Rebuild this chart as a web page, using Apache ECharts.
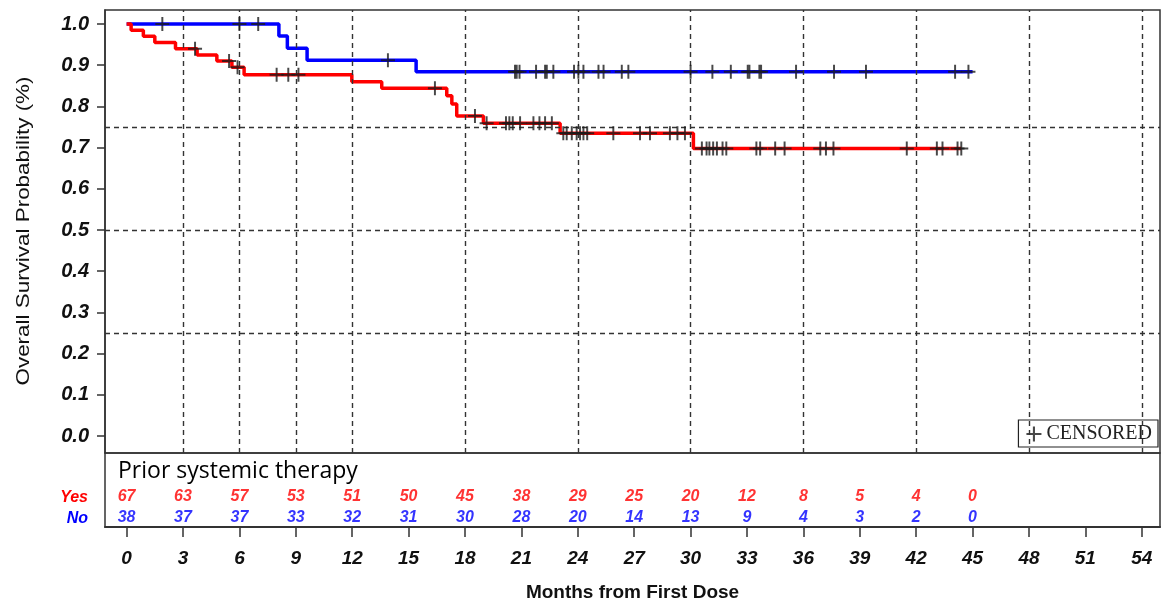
<!DOCTYPE html>
<html>
<head>
<meta charset="utf-8">
<script src="https://cdn.jsdelivr.net/npm/echarts@6/dist/echarts.min.js"></script>
<style>
  html, body { margin: 0; padding: 0; background: #fff; }
  #chart { width: 1162px; height: 601px; }
</style>
</head>
<body>
<div id="chart"></div>
<script>
// ---------- DATA ----------
// Kaplan-Meier step points [month, survival probability]
const yesSteps = [[0,1.0],[0.24,0.985],[0.89,0.970],[1.5,0.955],[2.6,0.940],[3.75,0.925],[4.8,0.910],[5.6,0.895],[6.25,0.877],[11.98,0.860],[13.57,0.844],[17.03,0.826],[17.3,0.806],[17.56,0.777],[18.98,0.759],[23.06,0.735],[30.15,0.698],[44.4,0.698]];
const noSteps = [[0,1.0],[8.1,0.971],[8.55,0.941],[9.6,0.912],[15.4,0.884],[45.0,0.884]];

// censored observations [month, survival probability]
const yesCensored = [[3.64,0.940],[5.45,0.910],[5.9,0.895],[7.98,0.877],[8.6,0.877],[9.14,0.877],[16.4,0.844],[18.53,0.777],[19.15,0.759],[20.18,0.759],[20.36,0.759],[20.54,0.759],[20.93,0.759],[21.64,0.759],[21.96,0.759],[22.26,0.759],[22.62,0.759],[23.23,0.735],[23.41,0.735],[23.68,0.735],[23.94,0.735],[24.12,0.735],[24.3,0.735],[24.5,0.735],[25.89,0.735],[27.31,0.735],[27.84,0.735],[28.9,0.735],[29.3,0.735],[29.7,0.735],[30.6,0.698],[30.85,0.698],[31.0,0.698],[31.2,0.698],[31.4,0.698],[31.7,0.698],[31.9,0.698],[33.5,0.698],[33.7,0.698],[34.5,0.698],[35.0,0.698],[36.9,0.698],[37.2,0.698],[37.6,0.698],[41.5,0.698],[43.1,0.698],[43.4,0.698],[44.2,0.698],[44.4,0.698]];
const noCensored = [[1.9,1.0],[6.0,1.0],[7.0,1.0],[13.9,0.912],[20.66,0.884],[20.75,0.884],[20.9,0.884],[21.78,0.884],[22.26,0.884],[22.35,0.884],[22.7,0.884],[23.8,0.884],[24.03,0.884],[24.3,0.884],[25.1,0.884],[25.37,0.884],[26.34,0.884],[26.69,0.884],[30.0,0.884],[31.16,0.884],[32.14,0.884],[33.04,0.884],[33.13,0.884],[33.66,0.884],[33.75,0.884],[35.61,0.884],[37.63,0.884],[39.33,0.884],[44.07,0.884],[44.78,0.884]];

// number at risk
const riskMonths = [0,3,6,9,12,15,18,21,24,27,30,33,36,39,42,45];
const yesAtRisk = [67,63,57,53,51,50,45,38,29,25,20,12,8,5,4,0];
const noAtRisk  = [38,37,37,33,32,31,30,28,20,14,13,9,4,3,2,0];

// axis ticks and reference lines
const xTicks = [0,3,6,9,12,15,18,21,24,27,30,33,36,39,42,45,48,51,54];
const yTicks = [0.0,0.1,0.2,0.3,0.4,0.5,0.6,0.7,0.8,0.9,1.0];
const gridMonths = [3,6,9,12,18,24,30,36,42,48,54];
const gridProbs = [0.25,0.5,0.75];

// ---------- CHART ----------
const FONT = 'Liberation Sans, Arial, sans-serif';
const X_MIN = -1.15, X_MAX = 54.97;
const Y_MIN = -0.0413, Y_MAX = 1.034;
const ROW_YES = 0.405, ROW_NO = 0.122;
const CROSS = 'path://M4.3,0h1.4v10h-1.4z M0,4.3h10v1.4h-10z';

const chart = echarts.init(document.getElementById('chart'), null, {renderer: 'canvas'});

const riskSeries = (vals, row, color) => ({
  type: 'scatter', xAxisIndex: 1, yAxisIndex: 1,
  symbolSize: 0, silent: true,
  data: riskMonths.map((m, i) => [m, row, vals[i]]),
  label: {
    show: true, position: 'inside', formatter: p => String(p.value[2]),
    color: color, fontFamily: FONT, fontSize: 16, fontWeight: 'bold', fontStyle: 'italic'
  }
});

chart.setOption({
  animation: false,
  backgroundColor: '#fff',
  title: {
    text: 'Prior systemic therapy', left: 113, top: 455,
    textStyle: { fontFamily: 'Open Sans, Noto Sans, sans-serif', fontSize: 23, fontWeight: 'normal', color: '#000' }
  },
  legend: {
    data: [{ name: 'CENSORED', icon: CROSS }],
    right: 4, top: 420, padding: [4, 6, 3, 8],
    borderColor: '#222', borderWidth: 1.2,
    itemWidth: 15, itemHeight: 15, itemGap: 6,
    selectedMode: false,
    textStyle: { fontFamily: 'Liberation Serif, Times New Roman, serif', fontSize: 20, color: '#222' }
  },
  grid: [
    { left: 105, top: 10, width: 1055, height: 443, show: true, borderColor: '#333', borderWidth: 1.5,
      backgroundColor: 'transparent', containLabel: false, outerBoundsMode: 'none' },
    { left: 105, top: 453, width: 1055, height: 74, show: true, borderColor: '#333', borderWidth: 1.5,
      backgroundColor: 'transparent', containLabel: false, outerBoundsMode: 'none' }
  ],
  xAxis: [
    { gridIndex: 0, type: 'value', min: X_MIN, max: X_MAX,
      axisLine: { show: false, onZero: false }, axisTick: { show: false }, axisLabel: { show: false }, splitLine: { show: false } },
    { gridIndex: 1, type: 'value', min: X_MIN, max: X_MAX, position: 'bottom',
      axisLine: { show: true, onZero: false, lineStyle: { color: '#333', width: 2 } },
      axisTick: { show: true, customValues: xTicks, length: 10, lineStyle: { color: '#333', width: 1.5 } },
      axisLabel: { customValues: xTicks, margin: 22, fontFamily: FONT, fontSize: 19, fontWeight: 'bold', fontStyle: 'italic', color: '#111' },
      splitLine: { show: false },
      name: 'Months from First Dose', nameLocation: 'middle', nameGap: 56,
      nameTextStyle: { fontFamily: FONT, fontSize: 19, fontWeight: 'bold', color: '#111' } }
  ],
  yAxis: [
    { gridIndex: 0, type: 'value', min: Y_MIN, max: Y_MAX,
      axisLine: { show: true, onZero: false, lineStyle: { color: '#333', width: 1.5 } },
      axisTick: { show: true, customValues: yTicks, length: 8, lineStyle: { color: '#333', width: 1.5 } },
      axisLabel: { customValues: yTicks, margin: 16, formatter: v => v.toFixed(1),
        fontFamily: FONT, fontSize: 20, fontWeight: 'bold', fontStyle: 'italic', color: '#111' },
      splitLine: { show: false } },
    { gridIndex: 1, type: 'value', min: 0, max: 1, show: false }
  ],
  graphic: [
    { type: 'text', x: 24, y: 231, rotation: Math.PI / 2, scaleX: 1.18,
      style: { text: 'Overall Survival Probability (%)', fontFamily: FONT, fontSize: 19, fill: '#111', textAlign: 'center', textVerticalAlign: 'middle' } },
    { type: 'text', x: 88, y: 498,
      style: { text: 'Yes', fontFamily: FONT, fontSize: 16, fontWeight: 'bold', fontStyle: 'italic', fill: '#ff0000', textAlign: 'right', textVerticalAlign: 'middle' } },
    { type: 'text', x: 88, y: 519,
      style: { text: 'No', fontFamily: FONT, fontSize: 16, fontWeight: 'bold', fontStyle: 'italic', fill: '#0000ff', textAlign: 'right', textVerticalAlign: 'middle' } }
  ],
  series: [
    { type: 'line', xAxisIndex: 0, yAxisIndex: 0, data: [[0, 0]], showSymbol: false, silent: true,
      lineStyle: { opacity: 0 }, z: 1,
      markLine: { silent: true, symbol: 'none', label: { show: false },
        lineStyle: { type: [5, 4], color: '#333', width: 1.4 },
        data: gridMonths.map(m => ({ xAxis: m })).concat(gridProbs.map(p => ({ yAxis: p }))) } },
    { name: 'No', type: 'line', step: 'end', xAxisIndex: 0, yAxisIndex: 0, data: noSteps,
      showSymbol: false, silent: true, lineStyle: { color: '#0000ff', width: 3.5 }, z: 3 },
    { name: 'Yes', type: 'line', step: 'end', xAxisIndex: 0, yAxisIndex: 0, data: yesSteps,
      showSymbol: false, silent: true, lineStyle: { color: '#ff0000', width: 3.5 }, z: 4 },
    { name: 'CENSORED', type: 'scatter', xAxisIndex: 0, yAxisIndex: 0, data: noCensored,
      symbol: CROSS, symbolSize: 14, itemStyle: { color: '#1a1a1a' }, silent: true, z: 5 },
    { name: 'CENSORED', type: 'scatter', xAxisIndex: 0, yAxisIndex: 0, data: yesCensored,
      symbol: CROSS, symbolSize: 14, itemStyle: { color: '#1a1a1a' }, silent: true, z: 5 },
    riskSeries(yesAtRisk, ROW_YES, '#ff0000'),
    riskSeries(noAtRisk, ROW_NO, '#0000ff')
  ]
});
</script>
</body>
</html>
